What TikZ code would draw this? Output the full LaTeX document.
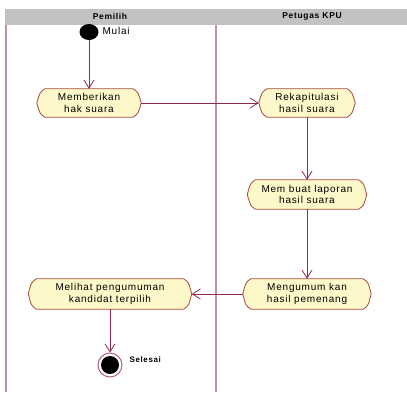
\documentclass[tikz,border=0pt]{standalone}
\usepackage{fontspec}
\setmainfont{Liberation Sans}[LetterSpace=8]
\usetikzlibrary{arrows.meta,calc,backgrounds,shapes.geometric}
\definecolor{lanecol}{HTML}{C48FA6}
\definecolor{headgray}{HTML}{C2C2C2}
\definecolor{actfill}{HTML}{FDF8C9}
\definecolor{actedge}{HTML}{A34A3E}
\definecolor{flowcol}{HTML}{8E2A55}
\definecolor{ringcol}{HTML}{B0607F}

% activity outline: straight top and bottom, pointed ends with curved sides
\newcommand\actoutline[1]{%
  \filldraw[actshape] ($(#1.north west)+(8,0)$) -- ($(#1.north east)+(-8,0)$)
    .. controls ($(#1.north east)+(-3,3.5)$) .. (#1.east)
    .. controls ($(#1.south east)+(-3,-3.5)$) .. ($(#1.south east)+(-8,0)$)
    -- ($(#1.south west)+(8,0)$)
    .. controls ($(#1.south west)+(3,-3.5)$) .. (#1.west)
    .. controls ($(#1.north west)+(3,3.5)$) .. cycle;}

\begin{document}
\begin{tikzpicture}[x=1pt,y=-1pt,
  lane/.style={draw=lanecol,line width=1.1pt},
  actshape/.style={fill=actfill,draw=actedge,line width=0.8pt,line join=round},
  act/.style={inner sep=0pt,align=center,font=\fontsize{10}{11.5}\selectfont},
  flow/.style={draw=flowcol,line width=0.8pt,
    -{Straight Barb[length=8pt,width=10pt,line width=0.8pt]}},
  headtext/.style={font=\fontsize{8.5}{10}\selectfont\bfseries},
  startdot/.style={ellipse,fill=black,inner sep=0pt,minimum width=19pt,minimum height=16pt},
  endring/.style={circle,draw=ringcol,line width=1pt,fill=white,inner sep=0pt,minimum size=24pt}]
\useasboundingbox (0,0) rectangle (407,392);

% swimlanes
\begin{scope}[on background layer]
  \fill[headgray] (5,8.5) rectangle (407,24.5);
  \draw[lane] (6,24.5) -- (6,392);
  \draw[lane] (216,24.5) -- (216,392);
\end{scope}
\node[headtext] (lane1) at (110,16.5) {Pemilih};
\node[headtext] (lane2) at (312,16.5) {Petugas KPU};

% start and end states
\node[startdot] (start) at (89,32) {};
\node[anchor=west,font=\fontsize{10}{12}\selectfont] (mulai) at (99,30.5) {Mulai};
\node[endring] (end) at (110,365) {};
\fill[black] (end.center) circle[radius=9pt];
\node[anchor=west,font=\fontsize{8}{10}\selectfont\bfseries] (selesai) at (126,359.5) {Selesai};

% activities
\node[act,minimum width=104pt,minimum height=28pt] (beri) at (89,103) {Memberikan\\hak suara};
\node[act,minimum width=96pt,minimum height=28pt] (rekap) at (307,103) {Rekapitulasi\\hasil suara};
\node[act,minimum width=119pt,minimum height=29pt] (lapor) at (307,194.5) {Mem buat laporan\\hasil suara};
\node[act,minimum width=128pt,minimum height=30pt] (umum) at (307,294) {Mengumum kan\\hasil pemenang};
\node[act,minimum width=163pt,minimum height=30pt] (lihat) at (110,294) {Melihat pengumuman\\kandidat terpilih};

\begin{scope}[on background layer]
  \actoutline{beri}
  \actoutline{rekap}
  \actoutline{lapor}
  \actoutline{umum}
  \actoutline{lihat}
\end{scope}

% control flow
\draw[flow] (start.south) -- (beri.north);
\draw[flow] (beri.east) -- (rekap.west);
\draw[flow] (rekap.south) -- (lapor.north);
\draw[flow] (lapor.south) -- (umum.north);
\draw[flow] (umum.west) -- (lihat.east);
\draw[flow] (lihat.south) -- (end.north);
\end{tikzpicture}
\end{document}
